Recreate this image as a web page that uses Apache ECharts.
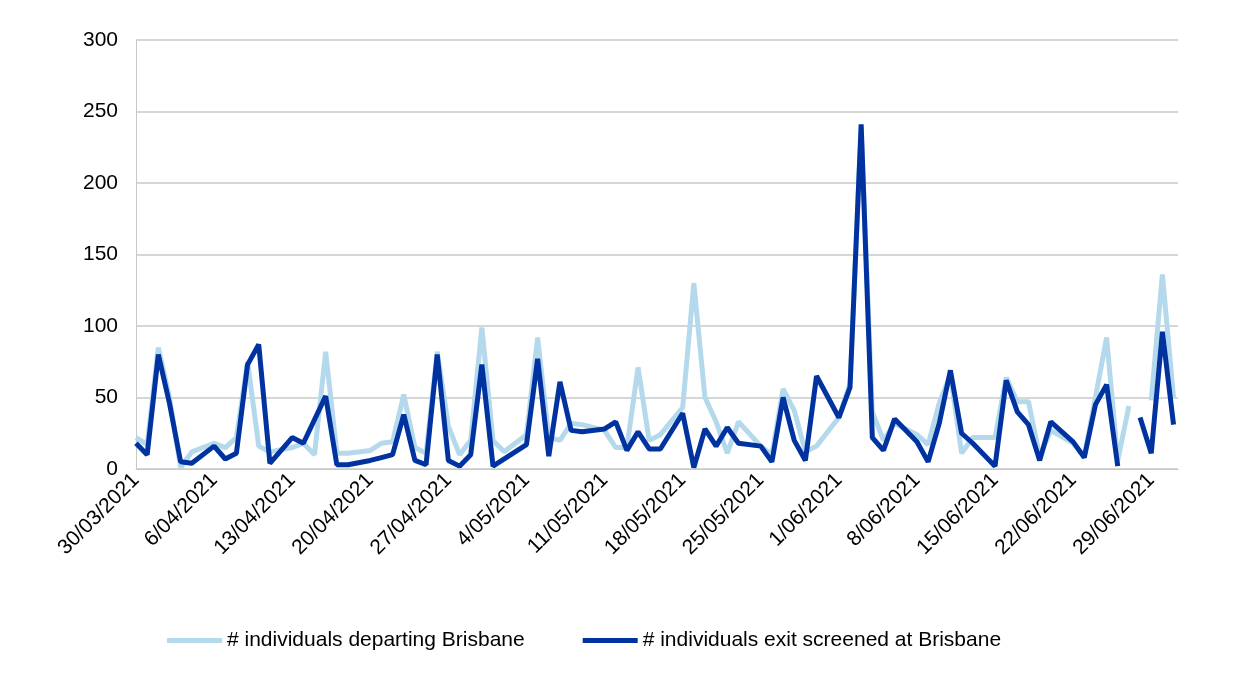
<!DOCTYPE html>
<html>
<head>
<meta charset="utf-8">
<script src="https://cdn.jsdelivr.net/npm/echarts@6/dist/echarts.min.js"></script>
<style>html,body{margin:0;background:#fff}#chart{width:1245px;height:690px}</style>
</head>
<body>
<div id="chart"></div>
<script>
// day index from 30/03/2021
var depDays = [0,1,2,3,4,5,7,8,9,10,11,12,14,15,16,17,18,19,21,22,23,24,25,26,27,28,29,30,31,32,33,35,36,37,38,39,40,42,43,44,45,46,47,49,50,51,52,53,54,56,57,58,59,60,61,63,64,65,66,67,68,70,71,72,73,74,75,77,78,79,80,81,82,84,85,86,87,88,89,90,91,92,93];
var depVals = [22,17,85,50,1,12,18,15,22,75,16,12,15,18,10,82,11,11,13,18,19,52,15,11,82,30,10,20,99,20,12,24,92,22,20,32,31,27,15,15,71,20,24,43,130,50,33,11,33,16,10,56,41,12,16,36,60,238,40,20,32,24,17,46,66,11,22,22,64,47,47,9,27,18,9,50,92,6,44,null,48,136,50];
var exitDays = [0,1,2,3,4,5,7,8,9,10,11,12,14,15,17,18,19,21,22,23,24,25,26,27,28,29,30,31,32,35,36,37,38,39,40,42,43,44,45,46,47,49,50,51,52,53,54,56,57,58,59,60,61,63,64,65,66,67,68,70,71,72,73,74,75,77,78,79,80,81,82,84,85,86,87,88,89,90,91,92,93];
var exitVals = [18,10,80,46,5,4,16,7,11,73,87,4,22,18,51,3,3,6,8,10,38,6,3,80,6,2,10,73,2,17,77,9,61,27,26,28,33,13,26,14,14,39,1,28,16,29,18,16,5,50,20,6,65,36,57,241,22,13,35,19,5,32,69,25,18,2,62,40,31,6,33,19,8,45,59,2,null,36,11,96,31];
var seriesNames = ['# individuals departing Brisbane', '# individuals exit screened at Brisbane'];

function pairs(d, v) {
	var out = [];
	for (var i = 0; i < d.length; i++) out.push([d[i], v[i]]);
	return out;
}
function dayLabel(n) {
	var dt = new Date(2021, 2, 30 + n);
	return dt.getDate() + '/' + ('0' + (dt.getMonth() + 1)).slice(-2) + '/' + dt.getFullYear();
}

var myChart = echarts.init(document.getElementById('chart'));
var option = {
	animation: false,
	textStyle: { fontFamily: 'Liberation Sans, Arial, sans-serif' },
	grid: { left: 136, right: 67, top: 40, bottom: 221 },
	legend: {
		bottom: 34,
		left: 162,
		icon: 'rect',
		itemWidth: 55,
		itemHeight: 5,
		itemGap: 58,
		textStyle: { fontSize: 21, color: '#000' },
		data: seriesNames
	},
	xAxis: {
		type: 'value',
		min: 0,
		max: 93.4,
		interval: 7,
		splitLine: { show: false },
		axisTick: { show: false },
		axisLine: { lineStyle: { color: '#c8c8c8' } },
		axisLabel: {
			rotate: 45,
			fontSize: 21,
			color: '#000',
			margin: 8,
			showMaxLabel: false,
			formatter: function(v) { return dayLabel(v); }
		}
	},
	yAxis: {
		type: 'value',
		min: 0,
		max: 300,
		interval: 50,
		axisLine: { show: true, lineStyle: { color: '#c8c8c8' } },
		axisTick: { show: false },
		splitLine: { lineStyle: { color: '#c8c8c8', width: 1.5 } },
		axisLabel: { fontSize: 21, color: '#000', margin: 18 }
	},
	series: [{
		name: seriesNames[0],
		type: 'line',
		data: pairs(depDays, depVals),
		showSymbol: false,
		connectNulls: false,
		lineStyle: { color: '#b4d9ed', width: 5 },
		itemStyle: { color: '#b4d9ed' }
	}, {
		name: seriesNames[1],
		type: 'line',
		data: pairs(exitDays, exitVals),
		showSymbol: false,
		connectNulls: false,
		lineStyle: { color: '#0033a0', width: 5 },
		itemStyle: { color: '#0033a0' }
	}]
};
myChart.setOption(option);
</script>
</body>
</html>
